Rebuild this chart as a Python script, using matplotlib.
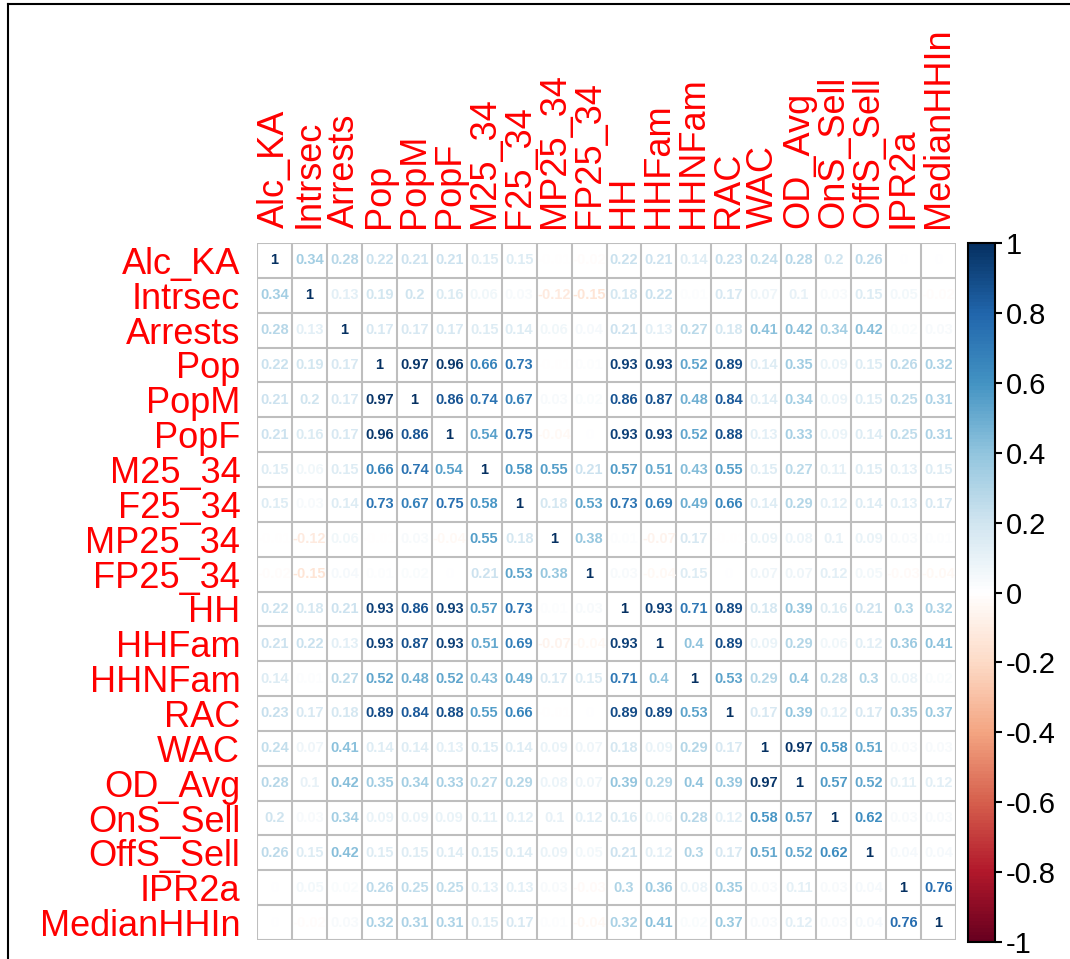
import numpy as np
import matplotlib
matplotlib.use("Agg")
import matplotlib.pyplot as plt
from matplotlib.colors import LinearSegmentedColormap, Normalize
from matplotlib.lines import Line2D
import matplotlib as mpl

variables = ["Alc_KA", "Intrsec", "Arrests", "Pop", "PopM", "PopF", "M25_34", "F25_34",
             "MP25_34", "FP25_34", "HH", "HHFam", "HHNFam", "RAC", "WAC", "OD_Avg",
             "OnS_Sell", "OffS_Sell", "IPR2a", "MedianHHIn"]

r_alc_ka     = [1, .34, .28, .22, .21, .21, .15, .15, -.01, -.02, .22, .21, .14, .23, .24, .28, .2, .26, 0, 0]
r_intrsec    = [.34, 1, .13, .19, .2, .16, .06, .03, -.12, -.15, .18, .22, .01, .17, .07, .1, .03, .15, .05, -.02]
r_arrests    = [.28, .13, 1, .17, .17, .17, .15, .14, .06, .04, .21, .13, .27, .18, .41, .42, .34, .42, .02, .03]
r_pop        = [.22, .19, .17, 1, .97, .96, .66, .73, -.01, .01, .93, .93, .52, .89, .14, .35, .09, .15, .26, .32]
r_popm       = [.21, .2, .17, .97, 1, .86, .74, .67, .03, .02, .86, .87, .48, .84, .14, .34, .09, .15, .25, .31]
r_popf       = [.21, .16, .17, .96, .86, 1, .54, .75, -.04, 0, .93, .93, .52, .88, .13, .33, .09, .14, .25, .31]
r_m25_34     = [.15, .06, .15, .66, .74, .54, 1, .58, .55, .21, .57, .51, .43, .55, .15, .27, .11, .15, .13, .15]
r_f25_34     = [.15, .03, .14, .73, .67, .75, .58, 1, .18, .53, .73, .69, .49, .66, .14, .29, .12, .14, .13, .17]
r_mp25_34    = [-.01, -.12, .06, -.01, .03, -.04, .55, .18, 1, .38, .01, -.07, .17, -.01, .09, .08, .1, .09, .03, .01]
r_fp25_34    = [-.02, -.15, .04, .01, .02, 0, .21, .53, .38, 1, .03, -.04, .15, 0, .07, .07, .12, .05, -.03, -.04]
r_hh         = [.22, .18, .21, .93, .86, .93, .57, .73, .01, .03, 1, .93, .71, .89, .18, .39, .16, .21, .3, .32]
r_hhfam      = [.21, .22, .13, .93, .87, .93, .51, .69, -.07, -.04, .93, 1, .4, .89, .09, .29, .06, .12, .36, .41]
r_hhnfam     = [.14, .01, .27, .52, .48, .52, .43, .49, .17, .15, .71, .4, 1, .53, .29, .4, .28, .3, .08, .02]
r_rac        = [.23, .17, .18, .89, .84, .88, .55, .66, -.01, 0, .89, .89, .53, 1, .17, .39, .12, .17, .35, .37]
r_wac        = [.24, .07, .41, .14, .14, .13, .15, .14, .09, .07, .18, .09, .29, .17, 1, .97, .58, .51, .03, .03]
r_od_avg     = [.28, .1, .42, .35, .34, .33, .27, .29, .08, .07, .39, .29, .4, .39, .97, 1, .57, .52, .11, .12]
r_ons_sell   = [.2, .03, .34, .09, .09, .09, .11, .12, .1, .12, .16, .06, .28, .12, .58, .57, 1, .62, .03, .03]
r_offs_sell  = [.26, .15, .42, .15, .15, .14, .15, .14, .09, .05, .21, .12, .3, .17, .51, .52, .62, 1, .04, .04]
r_ipr2a      = [0, .05, .02, .26, .25, .25, .13, .13, .03, -.03, .3, .36, .08, .35, .03, .11, .03, .04, 1, .76]
r_medianhhin = [0, -.02, .03, .32, .31, .31, .15, .17, .01, -.04, .32, .41, .02, .37, .03, .12, .03, .04, .76, 1]

corr = np.array([r_alc_ka, r_intrsec, r_arrests, r_pop, r_popm, r_popf, r_m25_34, r_f25_34,
                 r_mp25_34, r_fp25_34, r_hh, r_hhfam, r_hhnfam, r_rac, r_wac, r_od_avg,
                 r_ons_sell, r_offs_sell, r_ipr2a, r_medianhhin])

cbar_ticks = [-1, -0.8, -0.6, -0.4, -0.2, 0, 0.2, 0.4, 0.6, 0.8, 1]
cbar_labels = ["-1", "-0.8", "-0.6", "-0.4", "-0.2", "0", "0.2", "0.4", "0.6", "0.8", "1"]

col2 = ["#67001F", "#B2182B", "#D6604D", "#F4A582", "#FDDBC7", "#FFFFFF",
        "#D1E5F0", "#92C5DE", "#4393C3", "#2166AC", "#053061"]
cmap = LinearSegmentedColormap.from_list("rdbu200", col2, N=200)
norm = Normalize(-1, 1)

W, H = 1070, 959
fig = plt.figure(figsize=(W / 100, H / 100), dpi=100)
fig.patch.set_facecolor("white")

# outer frame
fig.add_artist(Line2D([8 / W, 8 / W], [0, 1 - 4 / H], color="black", lw=1.5, transform=fig.transFigure))
fig.add_artist(Line2D([8 / W, 1], [1 - 4 / H, 1 - 4 / H], color="black", lw=1.5, transform=fig.transFigure))

n = len(variables)
left, right, top, bottom = 257, 956, 243, 940
ax = fig.add_axes([left / W, 1 - bottom / H, (right - left) / W, (bottom - top) / H])
ax.set_xlim(-0.5, n - 0.5)
ax.set_ylim(n - 0.5, -0.5)
ax.set_facecolor("white")

for k in range(n + 1):
    ax.axhline(k - 0.5, color="#BEBEBE", lw=1.5, zorder=1)
    ax.axvline(k - 0.5, color="#BEBEBE", lw=1.5, zorder=1)

for i in range(n):
    for j in range(n):
        v = corr[i, j]
        s = f"{v:g}"
        if s == "-0":
            s = "0"
        ax.text(j, i, s, ha="center", va="center", fontsize=10.5, fontweight="bold",
                family="Liberation Sans", color=cmap(norm(v)), zorder=2)

for sp in ax.spines.values():
    sp.set_visible(False)

ax.set_xticks(range(n))
ax.set_yticks(range(n))
ax.set_xticklabels(variables, rotation=90, color="red", fontsize=26, family="Liberation Sans")
ax.set_yticklabels(variables, color="red", fontsize=26, family="Liberation Sans")
ax.xaxis.tick_top()
ax.tick_params(axis="both", length=0)
ax.tick_params(axis="x", pad=11)
ax.tick_params(axis="y", pad=12)
for lbl in ax.get_xticklabels():
    lbl.set_va("bottom")

cax = fig.add_axes([968 / W, 1 - 942 / H, (995 - 968) / W, (942 - 243) / H])
cb = mpl.colorbar.ColorbarBase(cax, cmap=cmap, norm=norm, orientation="vertical")
cb.set_ticks(cbar_ticks)
cb.set_ticklabels(cbar_labels)
cb.outline.set_linewidth(1.5)
cax.tick_params(labelsize=21, length=5, width=1.5, direction="out", pad=3)
for lbl in cax.get_yticklabels():
    lbl.set_family("Liberation Sans")

fig.savefig("out.png", dpi=100, facecolor="white")
